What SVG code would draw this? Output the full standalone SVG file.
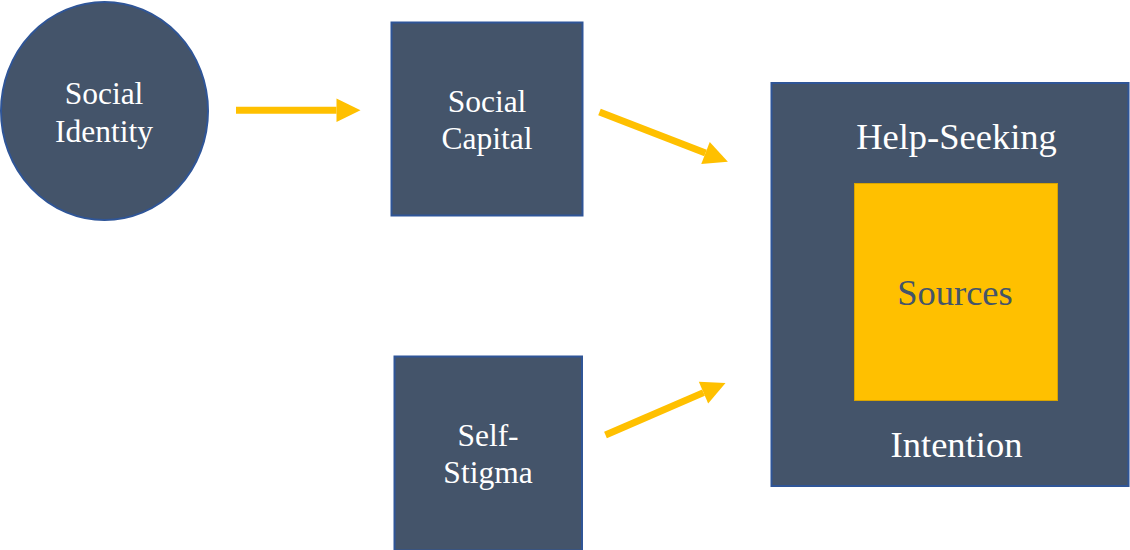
<svg xmlns="http://www.w3.org/2000/svg" width="1130" height="550" viewBox="0 0 1130 550">
  <style>
    .node { fill: #44546A; stroke: #2F5597; stroke-width: 2; }
    text { font-family: 'Liberation Serif', 'Times New Roman', Times, serif; fill: #FFFFFF; text-anchor: middle; }
    .lbl { font-size: 31.5px; }
    .big { font-size: 36.5px; }
    .conn { stroke: #FFC000; stroke-width: 7; fill: none; marker-end: url(#head); }
  </style>
  <defs>
    <marker id="head" markerUnits="userSpaceOnUse" markerWidth="24" markerHeight="24" refX="0" refY="11.75" orient="auto" overflow="visible">
      <path d="M0,0 L24,11.75 L0,23.5 Z" fill="#FFC000"/>
    </marker>
  </defs>
  <rect width="1130" height="550" fill="#FFFFFF"/>

  <g id="connectors">
    <line class="conn" x1="236" y1="110.3" x2="336.5" y2="110.3"/>
    <line class="conn" x1="599.5" y1="112" x2="705.5" y2="153"/>
    <line class="conn" x1="605.5" y1="435" x2="703.5" y2="392.6"/>
  </g>

  <g id="social-identity">
    <ellipse class="node" cx="104.5" cy="111" rx="103.5" ry="109"/>
    <text class="lbl" x="104" y="103.5" font-family="Liberation Serif, serif">Social</text>
    <text class="lbl" x="104" y="141.5" font-family="Liberation Serif, serif">Identity</text>
  </g>

  <g id="social-capital">
    <rect class="node" x="391.5" y="22.5" width="191" height="193"/>
    <text class="lbl" x="487" y="111.5">Social</text>
    <text class="lbl" x="487" y="149">Capital</text>
  </g>

  <g id="self-stigma">
    <rect class="node" x="394.5" y="356.5" width="187.5" height="194"/>
    <text class="lbl" x="488" y="446">Self-</text>
    <text class="lbl" x="488" y="483">Stigma</text>
  </g>

  <g id="help-seeking-intention">
    <rect class="node" x="771.5" y="83" width="357" height="403"/>
    <text class="big" x="956.5" y="149.3">Help-Seeking</text>
    <text class="big" x="956.5" y="457.3">Intention</text>
  </g>

  <g id="sources">
    <rect x="854.5" y="183.5" width="203" height="217" fill="#FFC000" stroke="#D9A400" stroke-width="1"/>
    <text class="big" x="955" y="305" style="fill:#44546A">Sources</text>
  </g>
</svg>
